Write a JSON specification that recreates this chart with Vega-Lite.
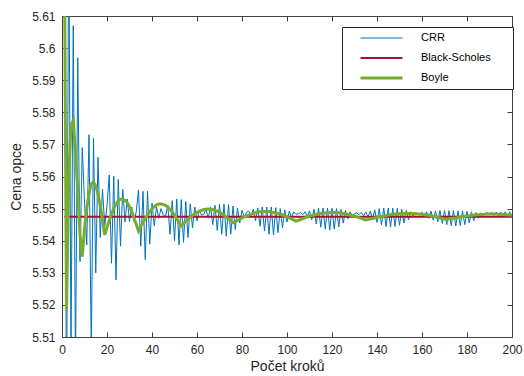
{
  "$schema": "https://vega.github.io/schema/vega-lite/v6.json",
  "width": 450,
  "height": 321,
  "autosize": "none",
  "padding": {"left": 62, "top": 16, "right": 12, "bottom": 39},
  "background": "white",
  "config": {
    "view": {"stroke": null},
    "font": "Liberation Sans",
    "axis": {
      "domainColor": "#404040",
      "tickColor": "#404040",
      "tickSize": -5,
      "labelFont": "Liberation Sans",
      "labelFontSize": 12,
      "labelColor": "#262626",
      "labelFlush": false,
      "labelOverlap": false,
      "titleFont": "Liberation Sans",
      "titleFontSize": 14,
      "titleFontWeight": "normal",
      "titleColor": "#262626",
      "grid": false,
      "labelPadding": 12
    },
    "legend": {
      "padding": 4,
      "strokeColor": "#262626",
      "fillColor": "white",
      "symbolType": "stroke",
      "symbolSize": 1764,
      "clipHeight": 14,
      "rowPadding": 6,
      "symbolOffset": 13,
      "labelOffset": 17,
      "labelFont": "Liberation Sans",
      "labelFontSize": 11,
      "labelColor": "#000000",
      "titleOrient": "right",
      "titlePadding": 18,
      "titleFontSize": 11
    }
  },
  "datasets": {
    "crr": [
      {"n":1,"p":5.660},{"n":2,"p":5.480},{"n":3,"p":5.640},{"n":4,"p":5.505},{"n":5,"p":5.607},
      {"n":6,"p":5.500},{"n":7,"p":5.597},{"n":8,"p":5.5335},{"n":9,"p":5.569},{"n":10,"p":5.552},
      {"n":11,"p":5.5387},{"n":12,"p":5.573},{"n":13,"p":5.505},{"n":14,"p":5.572},{"n":15,"p":5.530},
      {"n":16,"p":5.566},{"n":17,"p":5.541},{"n":18,"p":5.556},{"n":19,"p":5.5445},{"n":20,"p":5.551},
      {"n":21,"p":5.5605},{"n":22,"p":5.533},{"n":23,"p":5.5601},{"n":24,"p":5.5278},{"n":25,"p":5.5591},
      {"n":26,"p":5.5383},{"n":27,"p":5.556},{"n":28,"p":5.5459},{"n":29,"p":5.553},{"n":30,"p":5.546},
      {"n":31,"p":5.5505},{"n":32,"p":5.546},{"n":33,"p":5.549},{"n":34,"p":5.5558},{"n":35,"p":5.5383},
      {"n":36,"p":5.5554},{"n":37,"p":5.5341},{"n":38,"p":5.5554},{"n":39,"p":5.5389},{"n":40,"p":5.5517},
      {"n":41,"p":5.5446},{"n":42,"p":5.5505},{"n":43,"p":5.547},{"n":44,"p":5.550},{"n":45,"p":5.548},
      {"n":46,"p":5.5475},{"n":47,"p":5.551},{"n":48,"p":5.542},{"n":49,"p":5.5525},{"n":50,"p":5.540},
      {"n":51,"p":5.553},{"n":52,"p":5.5387},{"n":53,"p":5.5528},{"n":54,"p":5.5395},{"n":55,"p":5.5522},
      {"n":56,"p":5.541},{"n":57,"p":5.5515},{"n":58,"p":5.544},{"n":59,"p":5.5505},{"n":60,"p":5.5462},
      {"n":61,"p":5.5495},{"n":62,"p":5.548},{"n":63,"p":5.5482},{"n":64,"p":5.5497},{"n":65,"p":5.547},
      {"n":66,"p":5.5505},{"n":67,"p":5.545},{"n":68,"p":5.551},{"n":69,"p":5.5432},{"n":70,"p":5.5514},
      {"n":71,"p":5.542},{"n":72,"p":5.5514},{"n":73,"p":5.5414},{"n":74,"p":5.5512},{"n":75,"p":5.542},
      {"n":76,"p":5.5508},{"n":77,"p":5.5435},{"n":78,"p":5.5502},{"n":79,"p":5.5455},{"n":80,"p":5.5495},
      {"n":81,"p":5.5472},{"n":82,"p":5.5488},{"n":83,"p":5.5492},{"n":84,"p":5.5478},{"n":85,"p":5.5498},
      {"n":86,"p":5.5462},{"n":87,"p":5.5502},{"n":88,"p":5.5445},{"n":89,"p":5.5505},{"n":90,"p":5.543},
      {"n":91,"p":5.5505},{"n":92,"p":5.542},{"n":93,"p":5.5505},{"n":94,"p":5.5418},{"n":95,"p":5.5503},
      {"n":96,"p":5.5425},{"n":97,"p":5.550},{"n":98,"p":5.544},{"n":99,"p":5.5496},{"n":100,"p":5.5458},
      {"n":101,"p":5.5492},{"n":102,"p":5.5472},{"n":103,"p":5.549},{"n":104,"p":5.5482},{"n":105,"p":5.5484},
      {"n":106,"p":5.5488},{"n":107,"p":5.5481},{"n":108,"p":5.549},{"n":109,"p":5.5476},{"n":110,"p":5.5493},
      {"n":111,"p":5.5465},{"n":112,"p":5.5498},{"n":113,"p":5.5452},{"n":114,"p":5.5502},{"n":115,"p":5.5442},
      {"n":116,"p":5.5502},{"n":117,"p":5.5436},{"n":118,"p":5.5502},{"n":119,"p":5.5433},{"n":120,"p":5.5501},
      {"n":121,"p":5.5436},{"n":122,"p":5.550},{"n":123,"p":5.5443},{"n":124,"p":5.5498},{"n":125,"p":5.5455},
      {"n":126,"p":5.5494},{"n":127,"p":5.5468},{"n":128,"p":5.549},{"n":129,"p":5.548},{"n":130,"p":5.5484},
      {"n":131,"p":5.5487},{"n":132,"p":5.5481},{"n":133,"p":5.5488},{"n":134,"p":5.5478},{"n":135,"p":5.549},
      {"n":136,"p":5.5474},{"n":137,"p":5.5492},{"n":138,"p":5.5466},{"n":139,"p":5.5496},{"n":140,"p":5.5457},
      {"n":141,"p":5.550},{"n":142,"p":5.5449},{"n":143,"p":5.5502},{"n":144,"p":5.5444},{"n":145,"p":5.5502},
      {"n":146,"p":5.5442},{"n":147,"p":5.5502},{"n":148,"p":5.5444},{"n":149,"p":5.5501},{"n":150,"p":5.5448},
      {"n":151,"p":5.5498},{"n":152,"p":5.5455},{"n":153,"p":5.5494},{"n":154,"p":5.5465},{"n":155,"p":5.549},
      {"n":156,"p":5.5474},{"n":157,"p":5.5487},{"n":158,"p":5.5484},{"n":159,"p":5.548},{"n":160,"p":5.5489},
      {"n":161,"p":5.5475},{"n":162,"p":5.549},{"n":163,"p":5.547},{"n":164,"p":5.5492},{"n":165,"p":5.5464},
      {"n":166,"p":5.5493},{"n":167,"p":5.5459},{"n":168,"p":5.5494},{"n":169,"p":5.5454},{"n":170,"p":5.5494},
      {"n":171,"p":5.545},{"n":172,"p":5.5494},{"n":173,"p":5.5447},{"n":174,"p":5.5494},{"n":175,"p":5.5446},
      {"n":176,"p":5.5493},{"n":177,"p":5.5447},{"n":178,"p":5.5492},{"n":179,"p":5.545},{"n":180,"p":5.5491},
      {"n":181,"p":5.5455},{"n":182,"p":5.549},{"n":183,"p":5.5462},{"n":184,"p":5.5488},{"n":185,"p":5.547},
      {"n":186,"p":5.5487},{"n":187,"p":5.5478},{"n":188,"p":5.5485},{"n":189,"p":5.5487},{"n":190,"p":5.5482},
      {"n":191,"p":5.5488},{"n":192,"p":5.5479},{"n":193,"p":5.5489},{"n":194,"p":5.5477},{"n":195,"p":5.5489},
      {"n":196,"p":5.5476},{"n":197,"p":5.549},{"n":198,"p":5.5476},{"n":199,"p":5.549},{"n":200,"p":5.5476}
    ],
    "bs": [
      {"n":1,"p":5.5475},{"n":200,"p":5.5475}
    ],
    "boyle": [
      {"n":1,"p":5.640},{"n":2,"p":5.5184},{"n":3,"p":5.560},{"n":4,"p":5.576},{"n":5,"p":5.5775},
      {"n":6,"p":5.568},{"n":7,"p":5.555},{"n":8,"p":5.542},{"n":9,"p":5.535},{"n":10,"p":5.5435},
      {"n":11,"p":5.550},{"n":12,"p":5.5545},{"n":13,"p":5.5578},{"n":14,"p":5.5583},{"n":15,"p":5.557},
      {"n":16,"p":5.5545},{"n":17,"p":5.551},{"n":18,"p":5.5465},{"n":19,"p":5.5418},{"n":20,"p":5.5441},
      {"n":21,"p":5.5463},{"n":22,"p":5.5482},{"n":23,"p":5.550},{"n":24,"p":5.5514},{"n":25,"p":5.5524},
      {"n":26,"p":5.5529},{"n":27,"p":5.5529},{"n":28,"p":5.5526},{"n":29,"p":5.5518},{"n":30,"p":5.5506},
      {"n":31,"p":5.549},{"n":32,"p":5.5471},{"n":33,"p":5.5451},{"n":34,"p":5.543},{"n":35,"p":5.5443},
      {"n":36,"p":5.5457},{"n":37,"p":5.5469},{"n":38,"p":5.548},{"n":39,"p":5.549},{"n":40,"p":5.5499},
      {"n":41,"p":5.5506},{"n":42,"p":5.5511},{"n":43,"p":5.5514},{"n":44,"p":5.5514},{"n":45,"p":5.5513},
      {"n":46,"p":5.551},{"n":47,"p":5.5505},{"n":48,"p":5.5498},{"n":49,"p":5.5489},{"n":50,"p":5.5479},
      {"n":51,"p":5.5469},{"n":52,"p":5.5457},{"n":53,"p":5.5446},{"n":55,"p":5.546},{"n":57,"p":5.5473},
      {"n":59,"p":5.5484},{"n":61,"p":5.5492},{"n":63,"p":5.5497},{"n":65,"p":5.5499},{"n":67,"p":5.5497},
      {"n":69,"p":5.5492},{"n":71,"p":5.5484},{"n":73,"p":5.5474},{"n":75,"p":5.5463},{"n":76,"p":5.5456},
      {"n":78,"p":5.5463},{"n":80,"p":5.5471},{"n":82,"p":5.5477},{"n":84,"p":5.5482},{"n":86,"p":5.5487},
      {"n":88,"p":5.549},{"n":90,"p":5.5491},{"n":92,"p":5.5491},{"n":94,"p":5.5488},{"n":96,"p":5.5485},
      {"n":98,"p":5.548},{"n":100,"p":5.5474},{"n":102,"p":5.5468},{"n":104,"p":5.5461},{"n":106,"p":5.5466},
      {"n":108,"p":5.5471},{"n":110,"p":5.5477},{"n":112,"p":5.548},{"n":114,"p":5.5484},{"n":116,"p":5.5486},
      {"n":118,"p":5.5487},{"n":120,"p":5.5488},{"n":122,"p":5.5488},{"n":124,"p":5.5486},{"n":126,"p":5.5483},
      {"n":128,"p":5.548},{"n":130,"p":5.5476},{"n":132,"p":5.5472},{"n":134,"p":5.5467},{"n":135,"p":5.5464},
      {"n":137,"p":5.5468},{"n":139,"p":5.5471},{"n":141,"p":5.5474},{"n":143,"p":5.5477},{"n":145,"p":5.548},
      {"n":147,"p":5.5482},{"n":149,"p":5.5484},{"n":151,"p":5.5485},{"n":153,"p":5.5485},{"n":155,"p":5.5485},
      {"n":157,"p":5.5484},{"n":159,"p":5.5483},{"n":161,"p":5.5481},{"n":163,"p":5.5479},{"n":165,"p":5.5476},
      {"n":167,"p":5.5473},{"n":169,"p":5.5469},{"n":171,"p":5.5466},{"n":173,"p":5.5469},{"n":175,"p":5.5471},
      {"n":177,"p":5.5474},{"n":179,"p":5.5476},{"n":181,"p":5.5478},{"n":183,"p":5.548},{"n":185,"p":5.5481},
      {"n":187,"p":5.5482},{"n":189,"p":5.5483},{"n":191,"p":5.5483},{"n":193,"p":5.5483},{"n":195,"p":5.5482},
      {"n":197,"p":5.5481},{"n":199,"p":5.548},{"n":200,"p":5.5479}
    ]
  },
  "layer": [
    {
      "data": {"name": "crr"},
      "mark": {"type": "line", "clip": true},
      "encoding": {
        "x": {"field": "n", "type": "quantitative", "scale": {"domain": [0, 200], "nice": false, "zero": false},
              "axis": {"orient": "bottom", "values": [0,20,40,60,80,100,120,140,160,180,200], "title": "Počet kroků", "titlePadding": 4}},
        "y": {"field": "p", "type": "quantitative", "scale": {"domain": [5.51, 5.61], "nice": false, "zero": false},
              "axis": {"orient": "left", "values": [5.51,5.52,5.53,5.54,5.55,5.56,5.57,5.58,5.59,5.6,5.61], "format": ".2~f", "title": "Cena opce", "titlePadding": 8}},
        "color": {"datum": "CRR", "type": "nominal",
                  "scale": {"domain": ["CRR", "Black-Scholes", "Boyle"], "range": ["#0072BD", "#A2142F", "#77AC30"]},
                  "legend": {"title": " ", "orient": "none", "legendX": 280, "legendY": 11}},
        "strokeWidth": {"datum": "CRR", "type": "nominal",
                  "scale": {"type": "point", "domain": ["CRR", "Black-Scholes", "Boyle"], "range": [1, 3], "padding": 0},
                  "legend": {"title": " ", "orient": "none", "legendX": 280, "legendY": 11}}
      }
    },
    {
      "data": {"name": "bs"},
      "mark": {"type": "line", "clip": true},
      "encoding": {
        "x": {"field": "n", "type": "quantitative", "axis": null},
        "y": {"field": "p", "type": "quantitative", "axis": null},
        "color": {"datum": "Black-Scholes", "type": "nominal"},
        "strokeWidth": {"datum": "Black-Scholes", "type": "nominal"}
      }
    },
    {
      "data": {"name": "boyle"},
      "mark": {"type": "line", "clip": true},
      "encoding": {
        "x": {"field": "n", "type": "quantitative",
              "axis": {"orient": "top", "values": [0,20,40,60,80,100,120,140,160,180,200], "labels": false, "title": null}},
        "y": {"field": "p", "type": "quantitative",
              "axis": {"orient": "right", "values": [5.51,5.52,5.53,5.54,5.55,5.56,5.57,5.58,5.59,5.6,5.61], "labels": false, "title": null}},
        "color": {"datum": "Boyle", "type": "nominal"},
        "strokeWidth": {"datum": "Boyle", "type": "nominal"}
      }
    }
  ],
  "resolve": {"axis": {"x": "independent", "y": "independent"}}
}
